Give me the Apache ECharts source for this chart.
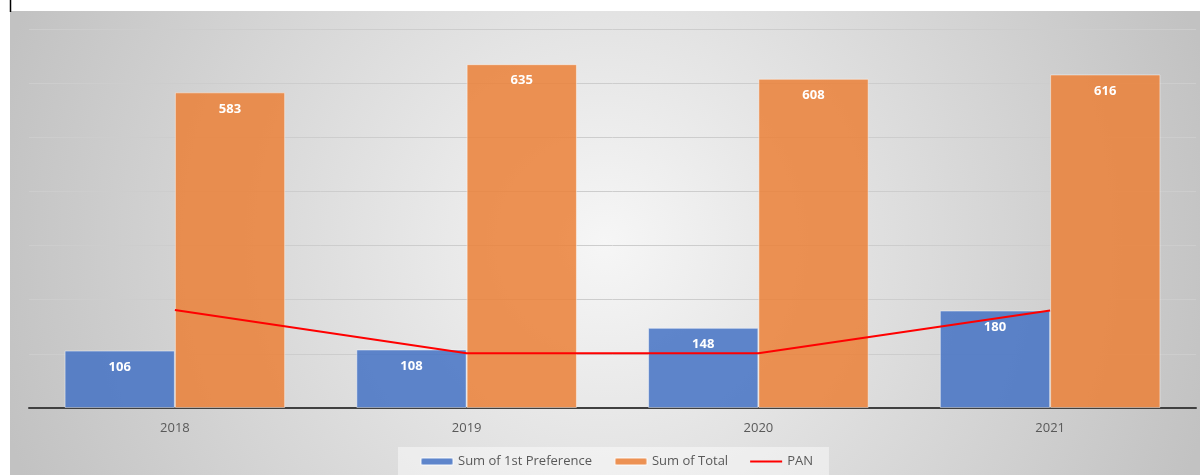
<!DOCTYPE html>
<html>
<head>
<meta charset="utf-8">
<title>Preferences by year</title>
<script src="https://cdn.jsdelivr.net/npm/echarts@6/dist/echarts.min.js"></script>
<style>
  html, body { margin: 0; padding: 0; background: #fff; }
  #chart { width: 1202px; height: 475px; }
</style>
</head>
<body>
<div id="chart"></div>
<script>
  // data
  var years = ['2018', '2019', '2020', '2021'];
  var firstPref = [106, 108, 148, 180];
  var totals = [583, 635, 608, 616];
  var pan = [181, 101, 101, 180];

  var chart = echarts.init(document.getElementById('chart'));
  var txt = '#595959';
  var font = "'Open Sans', 'Liberation Sans', sans-serif";

  chart.setOption({
    backgroundColor: '#fff',
    animation: false,
    textStyle: { fontFamily: font },
    graphic: [
      {
        type: 'rect', z: -10, silent: true,
        shape: { x: 10, y: 11, width: 1190, height: 464 },
        style: {
          fill: {
            type: 'radial', x: 0.5, y: 0.5, r: 1.35,
            colorStops: [
              { offset: 0, color: '#f6f6f6' },
              { offset: 1, color: '#c2c2c2' }
            ]
          }
        }
      },
      {
        type: 'line', z: -5, silent: true,
        shape: { x1: 10.5, y1: 0, x2: 10.5, y2: 12 },
        style: { stroke: '#000', lineWidth: 1.5 }
      }
    ],
    grid: { left: 29, right: 6, top: 29, bottom: 67 },
    legend: {
      left: 398, top: 447,
      padding: [8, 16, 8, 22],
      backgroundColor: 'rgba(255,255,255,0.45)',
      itemWidth: 32, itemHeight: 7, itemGap: 22,
      textStyle: { color: txt, fontSize: 13, fontFamily: font },
      data: [
        'Sum of 1st Preference',
        'Sum of Total',
        { name: 'PAN', icon: 'path://M0,0H32V2H0Z' }
      ]
    },
    xAxis: {
      type: 'category',
      data: years,
      axisTick: { show: false },
      axisLine: { lineStyle: { color: '#404040', width: 2 } },
      axisLabel: { color: txt, fontSize: 13, margin: 14 }
    },
    yAxis: {
      type: 'value', min: 0, max: 700, interval: 100,
      axisLabel: { show: false },
      axisLine: { show: false },
      axisTick: { show: false },
      splitLine: { lineStyle: { color: '#cdcdcd', width: 1 } }
    },
    series: [
      {
        name: 'Sum of 1st Preference',
        type: 'bar',
        data: firstPref,
        barGap: 0,
        barCategoryGap: '24.4%',
        itemStyle: { color: 'rgba(68,114,196,0.85)', borderColor: 'rgba(255,255,255,0.45)', borderWidth: 1 },
        label: { show: true, position: 'insideTop', distance: 10, color: '#fff', fontWeight: 'bold', fontSize: 13, fontFamily: font }
      },
      {
        name: 'Sum of Total',
        type: 'bar',
        data: totals,
        itemStyle: { color: 'rgba(235,128,55,0.85)', borderColor: 'rgba(255,255,255,0.45)', borderWidth: 1 },
        label: { show: true, position: 'insideTop', distance: 10, color: '#fff', fontWeight: 'bold', fontSize: 13, fontFamily: font }
      },
      {
        name: 'PAN',
        type: 'line',
        data: pan,
        symbol: 'none',
        z: 5,
        lineStyle: { color: '#ff0000', width: 2 },
        itemStyle: { color: '#ff0000' }
      }
    ]
  });
</script>
</body>
</html>
